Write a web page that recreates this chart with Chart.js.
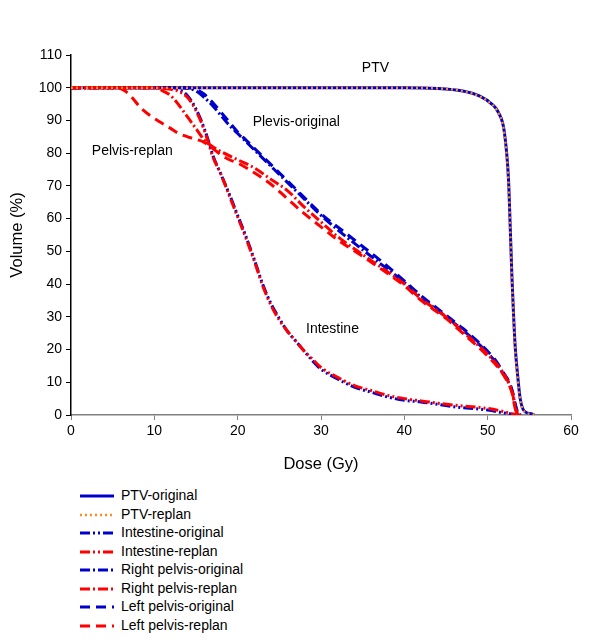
<!DOCTYPE html>
<html lang="en">
<head>
<meta charset="UTF-8">
<title>DVH</title>
<script src="https://cdn.jsdelivr.net/npm/chart.js@4"></script>
<style>
  body { margin: 0; background: #fff; font-family: "Liberation Sans", Arial, sans-serif; }
  #wrap { position: relative; width: 600px; height: 644px; }
  #box { position: absolute; left: 0; top: 0; width: 600px; height: 480px; }
  .leg { position: absolute; left: 80px; font-size: 14px; color: #000; height: 18px; line-height: 18px; white-space: nowrap; }
  .leg svg { vertical-align: middle; margin-right: 7px; }
</style>
</head>
<body>
<div id="wrap">
  <div id="box"><canvas id="dvh"></canvas></div>
  <div id="legend"></div>
</div>
<script>
// PTV
const ptvDose   = [0, 30, 40, 44, 47, 49, 50.5, 51.3, 52, 52.5, 52.7, 52.9, 53.1, 53.3, 53.6, 53.9, 54.2, 54.6, 55.3, 55.6];
const ptvOrig   = [100, 100, 100, 99.8, 99, 97.5, 95, 92.4, 86.5, 72, 58, 43, 31, 21, 12, 5, 2, 0.8, 0.3, 0];
const ptvReplan = [100, 100, 100, 99.8, 99, 97.4, 94.9, 92.2, 86, 71, 57, 42, 30, 20, 11, 4.5, 1.8, 0.7, 0.3, 0];

// Intestine
const intDose   = [0, 10, 12, 13, 14, 15, 16, 16.7, 17, 18, 19, 20, 21, 22, 23, 24, 25, 26, 27, 28, 29, 30, 32, 34, 36, 38, 40, 42, 46, 50, 52, 53, 54];
const intOrig   = [100, 100, 99.8, 99.3, 97.5, 93.5, 87.5, 82, 79.5, 73.5, 67.5, 61, 54.5, 47.5, 40, 34, 29.5, 25.5, 22.5, 19.5, 16.5, 14, 11, 8.5, 7, 5.5, 4.5, 4, 2.5, 1.5, 0.6, 0.2, 0];
const intReplan = [100, 100, 99.5, 98.8, 97, 93, 87, 81.5, 79, 73.5, 67, 60.5, 54, 47, 39.5, 33.5, 29, 25.5, 22.5, 19.5, 17, 14.5, 11.5, 9, 7.5, 6, 5, 4.3, 3, 2, 1, 0.3, 0];

// Pelvis original
const pelOrigDose = [0, 13, 14, 15, 16, 17, 18, 19, 20, 21, 22, 23, 24, 25, 27, 30, 33, 35, 37, 40, 42, 45, 47, 49, 50, 51, 52, 52.5, 53, 53.3, 53.6, 54];
const rightOrig   = [100, 100, 99.8, 99, 97, 94.5, 91.5, 88.5, 86, 83.5, 81, 78.5, 76, 73.5, 68.5, 61, 54.5, 50.5, 46.5, 40.5, 36, 30, 26, 21.5, 19, 16, 12, 10, 6.5, 3, 0.5, 0];
const leftOrig    = [100, 100, 100, 99.5, 98, 95.5, 92.5, 89.5, 86.5, 84, 81.5, 79, 76.5, 74, 69, 61.5, 55.5, 51.5, 47.5, 41, 36.5, 30.5, 26.5, 22, 19.5, 16.5, 12.5, 10.5, 7, 3.5, 1, 0];

// Pelvis replan
const leftRepDose  = [0, 5.5, 6.5, 7.5, 8.3, 9.5, 10.7, 12, 12.8, 14, 15.2, 16, 17, 18, 19, 20, 22, 24, 26, 28, 30, 32, 35, 37, 40, 42, 45, 47, 50, 51.7, 52.5, 52.9, 53.3, 53.6];
const leftReplan   = [100, 100, 99, 96.5, 94, 91.5, 89.5, 87.5, 86.2, 85, 84.1, 83.3, 81.5, 79.5, 78, 77, 74, 70.5, 66, 61.5, 57.5, 53.5, 48.5, 45, 39.5, 35, 29.5, 25, 18, 13, 9.5, 7, 2, 0];
const rightRepDose = [0, 10, 11, 12, 13, 14, 15, 16, 17, 18, 20, 22, 24, 26, 28, 30, 32, 35, 37, 40, 42, 45, 47, 50, 51.7, 52.5, 52.9, 53.3, 53.6];
const rightReplan  = [100, 100, 99, 97.5, 94.5, 91, 87.5, 84, 82, 80.5, 78, 75.5, 72, 68.5, 63.5, 59, 54.5, 49, 45.5, 40, 35.5, 30, 25.5, 18.5, 13.5, 10, 7.5, 2.5, 0];

const xTicks = [0, 10, 20, 30, 40, 50, 60];
const yTicks = [0, 10, 20, 30, 40, 50, 60, 70, 80, 90, 100, 110];

// in-plot labels (left edge, data units)
const noteText = ['PTV', 'Plevis-original', 'Pelvis-replan', 'Intestine'];
const noteDose = [34.9, 21.8, 2.5, 28.2];
const noteVol  = [106, 89.6, 80.7, 26.2];

const BLUE = '#0000CC';
const RED = '#FF0000';
const ORANGE = '#FF8C1A';

const DASH_INT = [10, 3, 2, 3, 2, 3];
const DASH_RIGHT = [10, 3, 2, 3];
const DASH_LEFT = [10, 6];
const DASH_DOT = [2, 3];

function pts(xs, ys) {
  return xs.map((x, i) => ({ x: x, y: ys[i] }));
}

const series = [
  { label: 'PTV-original', data: pts(ptvDose, ptvOrig), color: BLUE, dash: [], order: 5 },
  { label: 'PTV-replan', data: pts(ptvDose, ptvReplan), color: ORANGE, dash: DASH_DOT, order: 0 },
  { label: 'Intestine-original', data: pts(intDose, intOrig), color: BLUE, dash: DASH_INT, order: 6 },
  { label: 'Intestine-replan', data: pts(intDose, intReplan), color: RED, dash: DASH_INT, order: 2 },
  { label: 'Right pelvis-original', data: pts(pelOrigDose, rightOrig), color: BLUE, dash: DASH_RIGHT, order: 7 },
  { label: 'Right pelvis-replan', data: pts(rightRepDose, rightReplan), color: RED, dash: DASH_RIGHT, order: 3 },
  { label: 'Left pelvis-original', data: pts(pelOrigDose, leftOrig), color: BLUE, dash: DASH_LEFT, order: 8 },
  { label: 'Left pelvis-replan', data: pts(leftRepDose, leftReplan), color: RED, dash: DASH_LEFT, order: 4 }
];

const notes = {
  id: 'notes',
  afterDatasetsDraw(chart) {
    const ctx = chart.ctx;
    const xs = chart.scales.x, ys = chart.scales.y;
    ctx.save();
    ctx.font = '14px "Liberation Sans", Arial, sans-serif';
    ctx.fillStyle = '#000';
    ctx.textAlign = 'left';
    ctx.textBaseline = 'middle';
    noteText.forEach((t, i) => {
      ctx.fillText(t, xs.getPixelForValue(noteDose[i]), ys.getPixelForValue(noteVol[i]));
    });
    ctx.restore();
  }
};

Chart.defaults.font.family = '"Liberation Sans", Arial, sans-serif';
Chart.defaults.color = '#000';

new Chart(document.getElementById('dvh'), {
  type: 'line',
  data: {
    datasets: series.map(s => ({
      label: s.label,
      data: s.data,
      borderColor: s.color,
      backgroundColor: s.color,
      borderDash: s.dash,
      borderWidth: s.dash === DASH_DOT ? 2.5 : 3,
      pointRadius: 0,
      cubicInterpolationMode: 'monotone',
      fill: false,
      order: s.order
    }))
  },
  options: {
    responsive: true,
    maintainAspectRatio: false,
    animation: false,
    layout: { padding: { left: 0, top: 55, right: 29, bottom: 0 } },
    plugins: { legend: { display: false }, tooltip: { enabled: false } },
    scales: {
      x: {
        type: 'linear',
        min: 0, max: 60,
        afterFit: s => { s.height = 65; },
        afterBuildTicks: s => { s.ticks = xTicks.map(v => ({ value: v })); },
        border: { display: true, color: '#808080', width: 1.5 },
        grid: { drawOnChartArea: false, drawTicks: true, tickLength: 5, color: '#808080' },
        ticks: { font: { size: 14 }, padding: 3, maxRotation: 0 },
        title: { display: true, text: 'Dose (Gy)', font: { size: 16.5 }, padding: { top: 0, bottom: 6 } }
      },
      y: {
        type: 'linear',
        min: 0, max: 110,
        afterFit: s => { s.width = 71; },
        afterBuildTicks: s => { s.ticks = yTicks.map(v => ({ value: v })); },
        border: { display: true, color: '#000', width: 1.5 },
        grid: { drawOnChartArea: false, drawTicks: true, tickLength: 5, color: '#000' },
        ticks: { font: { size: 14 }, padding: 4 },
        title: { display: true, text: 'Volume (%)', font: { size: 16.5 }, padding: { top: 8, bottom: 0 } }
      }
    }
  },
  plugins: [notes]
});

// legend below the plot
const legend = document.getElementById('legend');
const legendTop = [486, 504.5, 523, 541.5, 560, 578.5, 597, 615.5];
series.forEach((s, i) => {
  const row = document.createElement('div');
  row.className = 'leg';
  row.style.top = legendTop[i] + 'px';
  const dash = s.dash.length ? s.dash.join(' ') : 'none';
  row.innerHTML = '<svg width="34" height="6"><line x1="0" y1="3" x2="34" y2="3" stroke="' + s.color +
    '" stroke-width="' + (s.dash === DASH_DOT ? 2.5 : 3) + '" stroke-dasharray="' + dash + '"/></svg>' + s.label;
  legend.appendChild(row);
});
</script>
</body>
</html>
